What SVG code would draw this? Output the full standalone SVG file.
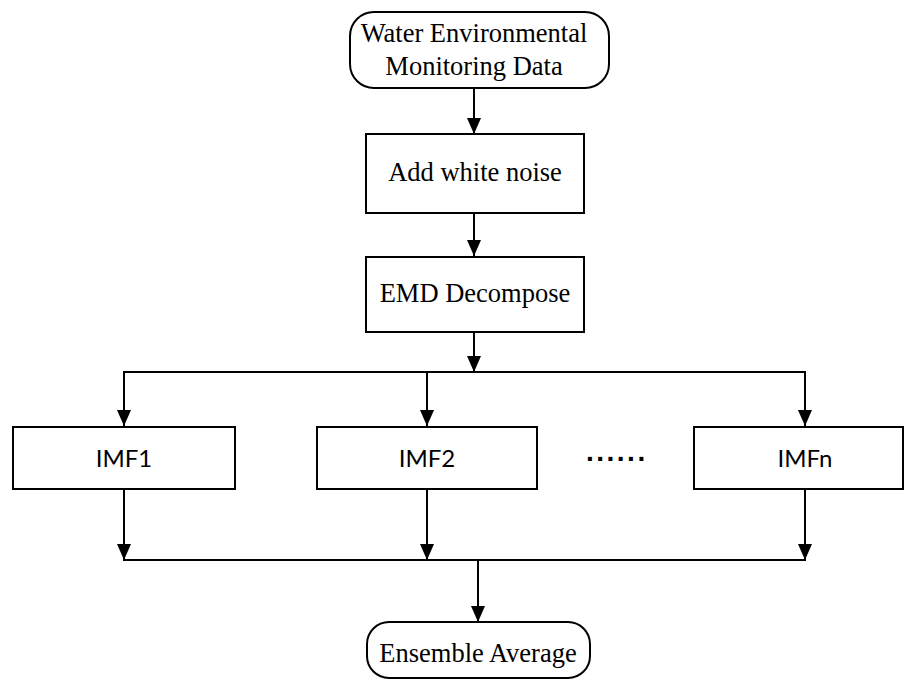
<svg xmlns="http://www.w3.org/2000/svg" width="904" height="680" viewBox="0 0 904 680">
<style>
.box{fill:#fff;stroke:#000;stroke-width:2}
.ln{fill:none;stroke:#000;stroke-width:2}
.ah{fill:#000}
.serif{font-family:"Liberation Serif","Times New Roman",serif;font-size:26.5px;fill:#000;text-anchor:middle}
.sans{font-family:Lato,"Liberation Sans",sans-serif;font-size:24px;fill:#000;text-anchor:middle}
</style>
<g id="connectors">
<line class="ln" x1="474" y1="88" x2="474" y2="134"/>
<path class="ah" d="M467,118 L481,118 L474,134 Z"/>
<line class="ln" x1="474" y1="213" x2="474" y2="256"/>
<path class="ah" d="M467,240 L481,240 L474,256 Z"/>
<line class="ln" x1="474" y1="332" x2="474" y2="372"/>
<path class="ah" d="M467,356 L481,356 L474,372 Z"/>
<polyline class="ln" points="124,426 124,372 805,372 805,426"/>
<path class="ah" d="M117,410 L131,410 L124,426 Z"/>
<line class="ln" x1="427" y1="372" x2="427" y2="426"/>
<path class="ah" d="M420,410 L434,410 L427,426 Z"/>
<path class="ah" d="M798,410 L812,410 L805,426 Z"/>
<line class="ln" x1="124" y1="489" x2="124" y2="560"/>
<path class="ah" d="M117,544 L131,544 L124,560 Z"/>
<line class="ln" x1="427" y1="489" x2="427" y2="560"/>
<path class="ah" d="M420,544 L434,544 L427,560 Z"/>
<line class="ln" x1="805" y1="489" x2="805" y2="560"/>
<path class="ah" d="M798,544 L812,544 L805,560 Z"/>
<line class="ln" x1="123" y1="560" x2="806" y2="560"/>
<line class="ln" x1="478" y1="560" x2="478" y2="622"/>
<path class="ah" d="M471,606 L485,606 L478,622 Z"/>
</g>
<g id="n-data">
<rect class="box" x="350" y="12" width="259" height="76" rx="24" ry="24"/>
<text class="serif" x="474" y="42">Water Environmental</text>
<text class="serif" x="474" y="75">Monitoring Data</text>
</g>
<g id="n-noise">
<rect class="box" x="366" y="134" width="218" height="79"/>
<text class="serif" x="475" y="181">Add white noise</text>
</g>
<g id="n-emd">
<rect class="box" x="366" y="257" width="218" height="75"/>
<text class="serif" x="475" y="302">EMD Decompose</text>
</g>
<g id="n-imf1">
<rect class="box" x="13" y="427" width="222" height="62"/>
<text class="sans" x="124" y="467">IMF1</text>
</g>
<g id="n-imf2">
<rect class="box" x="317" y="427" width="220" height="62"/>
<text class="sans" x="427" y="467">IMF2</text>
</g>
<g id="n-dots">
<text x="586" y="461" style="font-family:'Liberation Sans',Arial,sans-serif;font-size:28px;font-weight:bold;letter-spacing:2.5px">......</text>
</g>
<g id="n-imfn">
<rect class="box" x="694" y="427" width="209" height="62"/>
<text class="sans" x="805" y="467">IMFn</text>
</g>
<g id="n-avg">
<rect class="box" x="367" y="622" width="223" height="56" rx="22" ry="22"/>
<text class="serif" x="478" y="662">Ensemble Average</text>
</g>
</svg>
